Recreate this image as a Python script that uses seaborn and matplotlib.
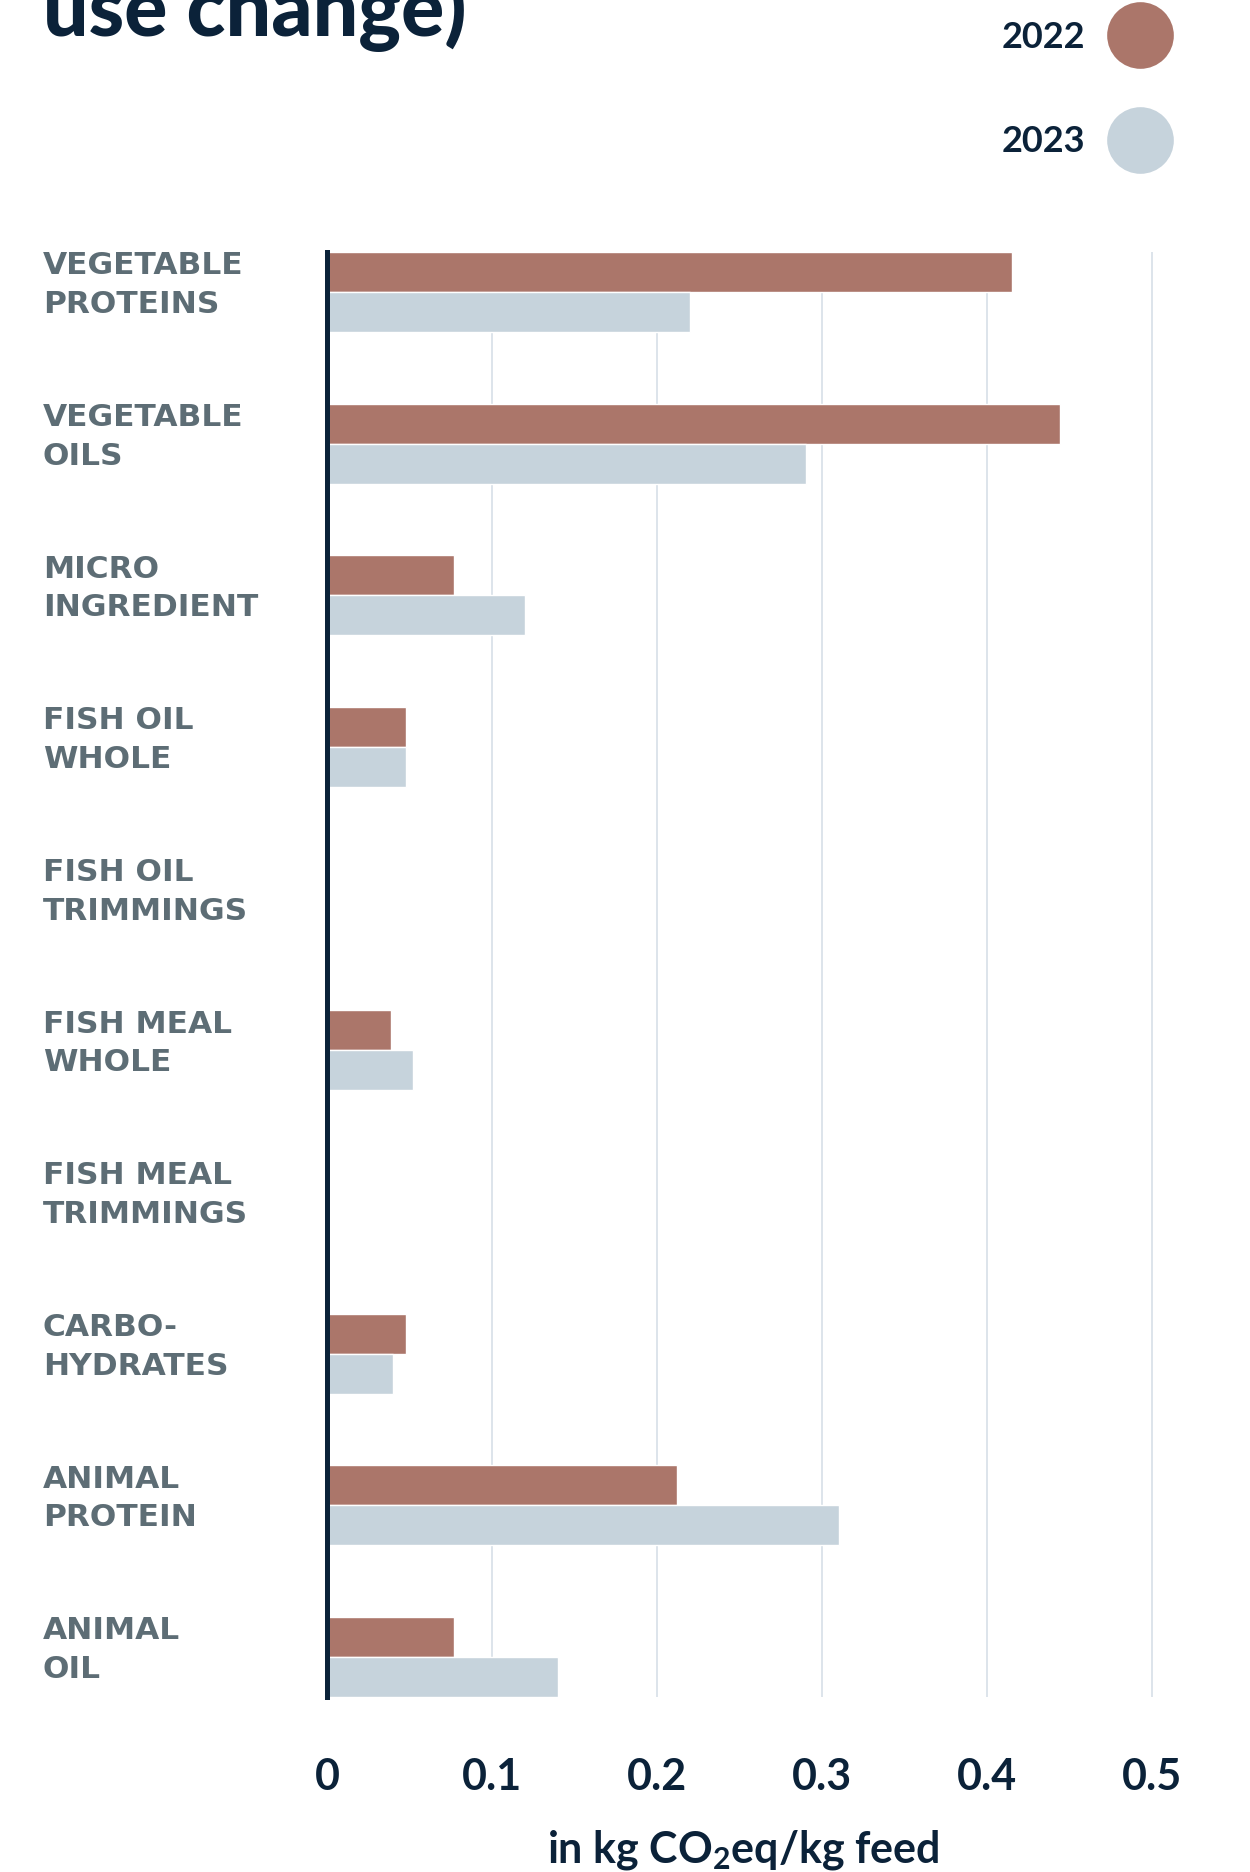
import pandas as pd
import matplotlib
matplotlib.use("Agg")
import matplotlib.pyplot as plt
import matplotlib.transforms as mtransforms
from matplotlib.lines import Line2D
import seaborn as sns

# dados (kg CO2eq / kg ração)
categorias = [
    "VEGETABLE\nPROTEINS", "VEGETABLE\nOILS", "MICRO\nINGREDIENT",
    "FISH OIL\nWHOLE", "FISH OIL\nTRIMMINGS", "FISH MEAL\nWHOLE",
    "FISH MEAL\nTRIMMINGS", "CARBO-\nHYDRATES", "ANIMAL\nPROTEIN", "ANIMAL\nOIL",
]
anos = ["2022", "2023"]
valores_2022 = [0.415, 0.444, 0.077, 0.048, 0.0, 0.0385, 0.0, 0.048, 0.212, 0.077]
valores_2023 = [0.220, 0.290, 0.120, 0.048, 0.0, 0.052, 0.0, 0.040, 0.310, 0.140]
ticks_x = [0, 0.1, 0.2, 0.3, 0.4, 0.5]
ticks_txt = ["0", "0.1", "0.2", "0.3", "0.4", "0.5"]

cores = {"2022": "#ab766a", "2023": "#c6d3dc"}
navy = "#0b2239"
cinza = "#5d6d75"

df = pd.DataFrame({
    "Categoria": categorias * 2,
    "Ano": [anos[0]] * len(categorias) + [anos[1]] * len(categorias),
    "Valor": valores_2022 + valores_2023,
})

sns.set_theme(style="white")
plt.rcParams["font.family"] = ["Lato", "DejaVu Sans"]
plt.rcParams["font.weight"] = "bold"

W, H = 1250, 1872
fig = plt.figure(figsize=(W / 100, H / 100), dpi=100)
ax = fig.add_axes([327 / W, 1 - 1697 / H, (1157 - 327) / W, (1697 - 252) / H])

largura = 0.527
sns.barplot(data=df, y="Categoria", x="Valor", hue="Ano", orient="h",
            palette=cores, width=largura, saturation=1, dodge=True,
            legend=False, ax=ax)

ax.set_xlim(0, 0.503)
ax.set_ylim(len(categorias) - 1 + largura / 2, -largura / 2)
ax.set_xticks(ticks_x)
ax.set_xticklabels(ticks_txt, fontsize=31, color=navy, fontweight="bold")
ax.tick_params(axis="x", length=0, pad=43)
ax.set_yticks([])
ax.set_xlabel("")
ax.set_ylabel("")
ax.grid(axis="x", color="#d3dde6", linewidth=1.1)
ax.set_axisbelow(True)
for s in ["top", "right", "bottom"]:
    ax.spines[s].set_visible(False)
ax.spines["left"].set_color(navy)
ax.spines["left"].set_linewidth(3.6)
ax.spines["left"].set_zorder(5)

# rótulos das categorias, alinhados à esquerda
trans = mtransforms.blended_transform_factory(fig.transFigure, ax.transData)
for i, cat in enumerate(categorias):
    ax.text(43 / W, i - largura / 2 - 0.005, cat, transform=trans, ha="left", va="top",
            fontsize=22.5, color=cinza, fontweight="bold", family="DejaVu Sans",
            linespacing=1.42)

# título (cortado no topo)
fig.text(43 / W, 1 - 36 / H, "use change)", fontsize=58, color=navy,
         fontweight="black", ha="left", va="baseline")

# eixo x
fig.text(743 / W, 1 - 1862 / H, r"in kg CO$_\mathregular{2}$eq/kg feed", fontsize=31,
         color=navy, fontweight="bold", ha="center", va="baseline")

# legenda com círculos
handles = [Line2D([], [], marker="o", linestyle="", markersize=48,
                  markerfacecolor=cores[a], markeredgewidth=0) for a in anos]
leg = fig.legend(handles, anos, loc="upper right", bbox_to_anchor=(1174 / W, 1 - 21 / H),
                 frameon=False, markerfirst=False, fontsize=26, handlelength=1.9,
                 handletextpad=0.55, labelspacing=1.97, borderpad=0, borderaxespad=0)
for t in leg.get_texts():
    t.set_color(navy)
    t.set_fontweight("bold")

fig.savefig("out.png", dpi=100)
